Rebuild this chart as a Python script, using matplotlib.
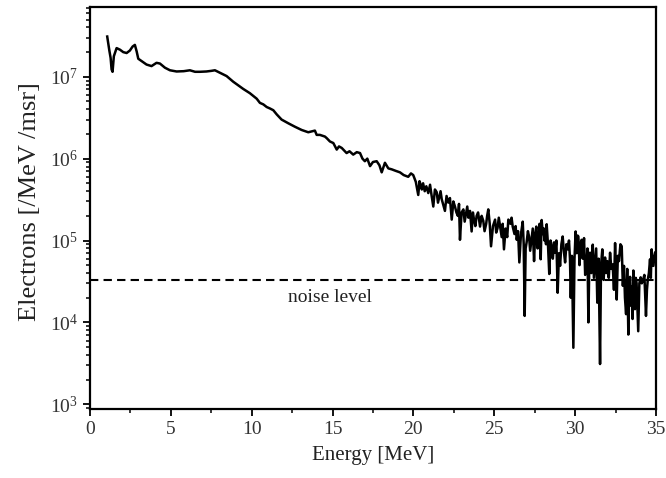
import matplotlib
matplotlib.use('Agg')
import matplotlib.pyplot as plt
from matplotlib.ticker import LogLocator, LogFormatterMathtext, MultipleLocator, NullFormatter

plt.rcParams['font.family'] = ['Liberation Serif', 'DejaVu Serif']
plt.rcParams['mathtext.fontset'] = 'custom'
plt.rcParams['mathtext.rm'] = 'Liberation Serif'
plt.rcParams['mathtext.it'] = 'Liberation Serif:italic'

# electron spectrum, smooth part (1 - 20 MeV)
energy_low = [1.07, 1.20, 1.28, 1.34, 1.40, 1.48, 1.65, 1.86, 2.06, 2.27, 2.47, 2.64, 2.78, 2.89,
              2.99, 3.20, 3.50, 3.81, 4.12, 4.33, 4.64, 4.95, 5.36, 5.80, 6.18, 6.50, 6.80, 7.20,
              7.50, 7.73, 8.04, 8.45, 8.86, 9.28, 9.48, 9.89, 10.31, 10.51, 10.72, 10.93, 11.13,
              11.34, 11.55, 11.85, 12.27, 12.68, 13.09, 13.50, 13.91, 14.02, 14.22, 14.53, 14.64,
              14.84, 15.05, 15.26, 15.40, 15.57, 15.87, 16.05, 16.28, 16.50, 16.70, 16.85, 17.00,
              17.15, 17.32, 17.50, 17.73, 17.90, 18.04, 18.24, 18.45, 18.66, 18.90, 19.17, 19.40,
              19.68, 19.85, 19.99]
electrons_low = [3.1e7, 2.1e7, 1.7e7, 1.23e7, 1.15e7, 1.78e7, 2.24e7, 2.14e7, 2.0e7, 1.95e7,
                 2.09e7, 2.34e7, 2.45e7, 2.04e7, 1.66e7, 1.55e7, 1.41e7, 1.35e7, 1.48e7, 1.45e7,
                 1.29e7, 1.2e7, 1.16e7, 1.17e7, 1.2e7, 1.15e7, 1.15e7, 1.16e7, 1.18e7, 1.2e7,
                 1.12e7, 1.02e7, 8.7e6, 7.6e6, 7.1e6, 6.3e6, 5.4e6, 4.8e6, 4.6e6, 4.27e6, 4.1e6,
                 3.9e6, 3.47e6, 3.0e6, 2.7e6, 2.45e6, 2.24e6, 2.1e6, 2.2e6, 1.95e6, 1.95e6, 1.86e6,
                 1.78e6, 1.62e6, 1.55e6, 1.29e6, 1.41e6, 1.35e6, 1.17e6, 1.23e6, 1.12e6, 1.2e6,
                 1.17e6, 1.0e6, 9.3e5, 1.0e6, 8.1e5, 9.1e5, 9.3e5, 8.3e5, 6.8e5, 8.9e5, 7.6e5,
                 7.4e5, 7.1e5, 6.8e5, 6.3e5, 6.0e5, 6.6e5, 6.3e5]

# noisy tail (20 - 35 MeV)
energy_high = [20.15, 20.22, 20.30, 20.38, 20.45, 20.52, 20.60, 20.70, 20.80, 20.92, 21.03, 21.12,
               21.23, 21.33, 21.44, 21.52, 21.60, 21.68, 21.75, 21.85, 21.95, 22.05, 22.16, 22.26,
               22.37, 22.47, 22.57, 22.66, 22.75, 22.82, 22.88, 22.98, 23.09, 23.17, 23.25, 23.33,
               23.40, 23.50, 23.60, 23.68, 23.75, 23.83, 23.91, 24.00, 24.12, 24.22, 24.32, 24.40,
               24.50, 24.56, 24.63, 24.72, 24.80, 24.92, 25.05, 25.12, 25.20, 25.28, 25.36, 25.46,
               25.52, 25.60, 25.70, 25.80, 25.87, 26.00, 26.07, 26.14, 26.25, 26.32, 26.39, 26.47,
               26.55, 26.65, 26.76, 26.82, 26.88, 26.94, 27.00, 27.08, 27.15, 27.22, 27.30, 27.38,
               27.46, 27.53, 27.60, 27.68, 27.75, 27.80, 27.87, 27.93, 28.00, 28.05, 28.10, 28.14,
               28.20, 28.24, 28.32, 28.40, 28.48, 28.55, 28.62, 28.70, 28.76, 28.84, 28.92, 29.00,
               29.07, 29.15, 29.23, 29.30, 29.38, 29.46, 29.54, 29.62, 29.68, 29.73, 29.80, 29.89,
               29.96, 30.03, 30.10, 30.15, 30.20, 30.27, 30.33, 30.40, 30.47, 30.55, 30.62, 30.70,
               30.76, 30.82, 30.88, 30.92, 31.00, 31.09, 31.16, 31.23, 31.30, 31.37, 31.45, 31.54,
               31.60, 31.68, 31.76, 31.85, 31.92, 31.99, 32.08, 32.16, 32.24, 32.32, 32.40, 32.47,
               32.57, 32.64, 32.71, 32.80, 32.88, 32.95, 33.02, 33.08, 33.15, 33.22, 33.29, 33.35,
               33.40, 33.45, 33.50, 33.55, 33.60, 33.65, 33.70, 33.75, 33.80, 33.85, 33.90, 33.97,
               34.05, 34.12, 34.20, 34.28, 34.38, 34.44, 34.49, 34.56, 34.63, 34.68, 34.73, 34.78,
               34.84, 34.90, 34.94]
electrons_high = [5.2e5, 4.4e5, 3.6e5, 5.3e5, 4.8e5, 4.2e5, 5.0e5, 4.0e5, 4.6e5, 3.8e5, 4.8e5, 3.6e5,
                  2.6e5, 4.2e5, 3.9e5, 2.9e5, 3.4e5, 4.0e5, 3.2e5, 2.7e5, 2.3e5, 3.5e5, 2.9e5, 3.3e5,
                  1.8e5, 3.0e5, 2.6e5, 2.2e5, 2.0e5, 2.8e5, 1.02e5, 2.2e5, 2.4e5, 1.7e5, 2.1e5, 2.6e5,
                  1.9e5, 2.3e5, 1.29e5, 2.2e5, 1.78e5, 1.5e5, 2.0e5, 2.2e5, 1.48e5, 2.0e5, 1.74e5, 1.3e5,
                  1.6e5, 2.0e5, 2.4e5, 1.6e5, 8.5e4, 1.5e5, 1.8e5, 1.25e5, 1.41e5, 1.9e5, 1.48e5, 1.1e5,
                  1.6e5, 7.8e4, 1.4e5, 1.1e5, 1.8e5, 1.6e5, 1.9e5, 1.48e5, 1.2e5, 1.5e5, 1.02e5, 1.3e5,
                  5.4e4, 1.2e5, 1.7e5, 9.0e4, 1.2e4, 8.0e4, 9.5e4, 1.3e5, 1.12e5, 7.5e4, 1.02e5, 1.4e5,
                  5.6e4, 1.2e5, 1.48e5, 8.0e4, 1.12e5, 1.6e5, 5.9e4, 1.78e5, 1.2e5, 1.41e5, 1.0e5, 1.26e5,
                  9.0e4, 1.58e5, 9.0e4, 3.9e4, 1.0e5, 8.5e4, 6.0e4, 9.5e4, 7.1e4, 1.0e5, 2.3e4, 7.0e4,
                  4.9e4, 9.0e4, 1.12e5, 7.5e4, 5.4e4, 9.0e4, 7.8e4, 1.0e5, 6.0e4, 2.0e4, 6.5e4, 4.9e3,
                  6.0e4, 1.29e5, 7.0e4, 1.15e5, 1.12e5, 5.0e4, 9.0e4, 1.02e5, 6.0e4, 1.07e5, 3.8e4, 4.9e4,
                  8.0e4, 1.0e4, 6.0e4, 7.1e4, 4.0e4, 8.9e4, 3.5e4, 5.4e4, 8.0e4, 1.74e4, 6.0e4, 3.1e3,
                  5.0e4, 7.8e4, 3.3e4, 6.2e4, 4.0e4, 5.6e4, 3.5e4, 7.1e4, 4.5e4, 5.1e4, 2.5e4, 9.3e4,
                  1.9e4, 6.5e4, 5.6e4, 9.0e4, 8.5e4, 2.8e4, 4.9e4, 2.0e4, 1.26e4, 4.5e4, 7.1e3, 3.0e4,
                  3.6e4, 1.6e4, 2.75e4, 1.1e4, 4.3e4, 2.2e4, 1.45e4, 3.5e4, 3.0e4, 1.5e4, 7.8e3, 3.0e4,
                  3.55e4, 3.0e4, 3.3e4, 3.8e4, 1.2e4, 2.5e4, 3.3e4, 4.0e4, 5.9e4, 3.5e4, 7.8e4, 5.0e4,
                  4.9e4, 6.5e4, 7.1e4]

noise_level = 3.3e4
noise_label = 'noise level'
noise_label_pos = (14.85, 2.0e4)

energy = energy_low + energy_high
electrons = electrons_low + electrons_high
assert len(energy) == len(electrons)

fig = plt.figure(figsize=(6.66, 4.78), dpi=100)
ax = fig.add_axes([0.135, 0.144, 0.850, 0.841])

ax.plot(energy, electrons, color='black', lw=1.8)
ax.axhline(noise_level, color='black', lw=1.5, ls=(0, (4, 2.5)))
ax.text(noise_label_pos[0], noise_label_pos[1], noise_label, fontsize=14,
        ha='center', va='center', color='#222222')

ax.set_yscale('log')
ax.set_xlim(0, 35)
ax.set_ylim(10 ** 2.94, 10 ** 7.85)

ax.xaxis.set_major_locator(MultipleLocator(5))
ax.xaxis.set_minor_locator(MultipleLocator(2.5))
ax.yaxis.set_major_locator(LogLocator(base=10))
ax.yaxis.set_major_formatter(LogFormatterMathtext())
ax.yaxis.set_minor_locator(LogLocator(base=10, subs=range(2, 10)))
ax.yaxis.set_minor_formatter(NullFormatter())

ax.tick_params(which='major', direction='out', length=5, width=1.3, labelsize=14,
               labelcolor='#333333', top=False, right=False)
ax.tick_params(which='minor', direction='out', length=3, width=1.1, top=False, right=False)
for s in ax.spines.values():
    s.set_linewidth(1.6)

ax.set_xlabel('Energy [MeV]', fontsize=15, color='#222222', labelpad=6)
ax.set_ylabel('Electrons [/MeV /msr]', fontsize=19, color='#222222')
ax.yaxis.set_label_coords(-0.087, 0.517)

fig.savefig('out.png', dpi=100)
